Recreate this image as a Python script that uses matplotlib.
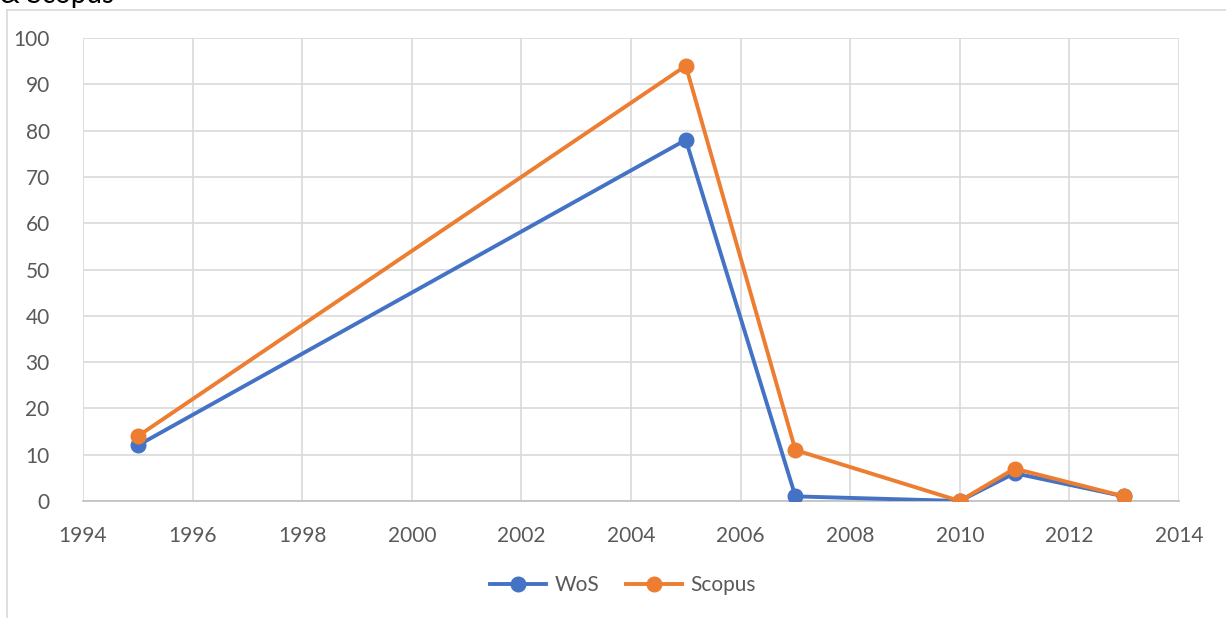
import matplotlib.pyplot as plt
from matplotlib.lines import Line2D

years = [1995, 2005, 2007, 2010, 2011, 2013]
wos = [12, 78, 1, 0, 6, 1]
scopus = [14, 94, 11, 0, 7, 1]

plt.rcParams['font.family'] = ['Lato', 'DejaVu Sans']

fig = plt.figure(figsize=(12.26, 6.18), dpi=100)
ax = fig.add_axes([83 / 1226, 1 - 501 / 618, (1179 - 83) / 1226, (501 - 38) / 618])

ax.plot(years, wos, color='#4472C4', lw=2.8, marker='o', ms=10.5, label='WoS', zorder=3)
ax.plot(years, scopus, color='#ED7D31', lw=2.8, marker='o', ms=10.5, label='Scopus', zorder=4)

ax.set_xlim(1994, 2014)
ax.set_ylim(0, 100)
ax.set_xticks(range(1994, 2015, 2))
ax.set_yticks(range(0, 101, 10))
ax.grid(True, color='#D9D9D9', lw=1.2)
ax.set_axisbelow(True)
for s in ['top', 'right', 'left']:
    ax.spines[s].set_visible(False)
ax.spines['bottom'].set_color('#BFBFBF')
ax.spines['bottom'].set_linewidth(1.2)
ax.tick_params(length=0, labelsize=15, colors='#595959', pad=18)
ax.tick_params(axis='y', pad=24)

fig.legend(loc='center', bbox_to_anchor=(623 / 1226, 1 - 585 / 618), ncol=2, frameon=False,
           fontsize=15, labelcolor='#595959', handlelength=2.7, handletextpad=0.4,
           columnspacing=1.3)

# chart border, partly outside the image
fig.add_artist(Line2D([7 / 1226, 7 / 1226], [0, 1 - 10 / 618], color='#D9D9D9', lw=1.2))
fig.add_artist(Line2D([7 / 1226, 1], [1 - 10 / 618, 1 - 10 / 618], color='#D9D9D9', lw=1.2))
fig.text(0, 1 - 8 / 618, '& Scopus', fontsize=20, color='black', va='bottom')

fig.savefig('out.png', dpi=100)
